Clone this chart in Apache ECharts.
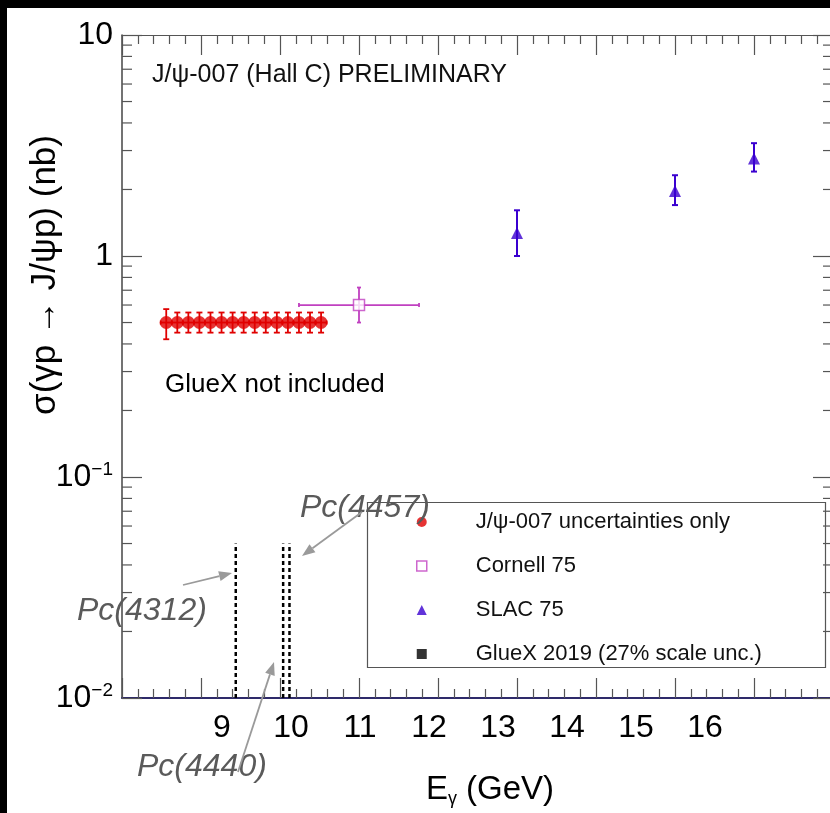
<!DOCTYPE html>
<html><head><meta charset="utf-8">
<script src="https://cdn.jsdelivr.net/npm/echarts@6/dist/echarts.min.js"></script>
<style>html,body{margin:0;padding:0;background:#fff;}#c{width:830px;height:813px;}</style>
</head><body><div id="c"></div>
<script>
// ---- data ----
const hallcE   = [8.56, 8.70, 8.84, 8.98, 9.12, 9.26, 9.40, 9.54, 9.68, 9.82, 9.96, 10.10, 10.24, 10.38, 10.52];
const hallcXS  = [0.50, 0.50, 0.50, 0.50, 0.50, 0.50, 0.50, 0.50, 0.50, 0.50, 0.50, 0.50, 0.50, 0.50, 0.50];
const hallcLo  = [0.42, 0.45, 0.45, 0.45, 0.45, 0.45, 0.45, 0.45, 0.45, 0.45, 0.45, 0.45, 0.45, 0.45, 0.45];
const hallcHi  = [0.575, 0.555, 0.555, 0.555, 0.555, 0.555, 0.555, 0.555, 0.555, 0.555, 0.555, 0.555, 0.555, 0.555, 0.555];
const hallcXErr= [0.07, 0.07, 0.07, 0.07, 0.07, 0.07, 0.07, 0.07, 0.07, 0.07, 0.07, 0.07, 0.07, 0.07, 0.07];

const cornellE = [11.0];
const cornellXS = [0.60];
const cornellLo = [0.50];
const cornellHi = [0.72];
const cornellXErr = [0.76];

const slacE  = [13, 15, 16];
const slacXS = [1.27, 1.97, 2.76];
const slacLo = [1.00, 1.70, 2.41];
const slacHi = [1.61, 2.32, 3.24];

const pcNames = ['Pc(4312)', 'Pc(4440)', 'Pc(4457)'];
const pcE     = [9.44, 10.04, 10.12];
const pcLow   = 0.01;
const pcTop   = 0.05;

const xTickValues = [9, 10, 11, 12, 13, 14, 15, 16];
const yTickValues = [0.01, 0.1, 1, 10];
const yTickBase   = ['10', '10', '1', '10'];
const yTickExp    = ['\u22122', '\u22121', '', ''];
const yMinorValues = [0.02, 0.03, 0.04, 0.05, 0.06, 0.07, 0.08, 0.09,
                      0.2, 0.3, 0.4, 0.5, 0.6, 0.7, 0.8, 0.9,
                      2, 3, 4, 5, 6, 7, 8, 9];

const legendNames = ['J/\u03c8-007 uncertainties only', 'Cornell 75', 'SLAC 75', 'GlueX 2019 (27% scale unc.)'];

// ---- styles ----
const FONT = 'Liberation Sans, Arial, Helvetica, sans-serif';
const RED = '#e00000', MAG = '#c040c0', BLUE = '#3a00d0';

function rows(e, y, lo, hi, xe) {
  return e.map((v, i) => [v, y[i], lo[i], hi[i], xe ? xe[i] : 0]);
}

function errRender(color, cap, lw) {
  return function (params, api) {
    const x = api.value(0), y = api.value(1), lo = api.value(2), hi = api.value(3), xe = api.value(4);
    const pLo = api.coord([x, lo]), pHi = api.coord([x, hi]);
    const st = { stroke: color, lineWidth: lw };
    const ch = [
      { type: 'line', shape: { x1: pLo[0], y1: pLo[1], x2: pHi[0], y2: pHi[1] }, style: st },
      { type: 'line', shape: { x1: pLo[0] - cap, y1: pLo[1], x2: pLo[0] + cap, y2: pLo[1] }, style: st },
      { type: 'line', shape: { x1: pHi[0] - cap, y1: pHi[1], x2: pHi[0] + cap, y2: pHi[1] }, style: st }
    ];
    if (xe > 0) {
      const pl = api.coord([x - xe, y]), pr = api.coord([x + xe, y]);
      ch.push({ type: 'line', shape: { x1: pl[0], y1: pl[1], x2: pr[0], y2: pr[1] }, style: st });
      ch.push({ type: 'line', shape: { x1: pl[0], y1: pl[1] - 2, x2: pl[0], y2: pl[1] + 2 }, style: st });
      ch.push({ type: 'line', shape: { x1: pr[0], y1: pr[1] - 2, x2: pr[0], y2: pr[1] + 2 }, style: st });
    }
    return { type: 'group', children: ch };
  };
}

function minorRender(params, api) {
  const p = api.coord([8, api.value(1)]);
  const cs = params.coordSys;
  const st = { stroke: '#555', lineWidth: 1.2 };
  return { type: 'group', children: [
    { type: 'line', shape: { x1: cs.x, y1: p[1], x2: cs.x + 10, y2: p[1] }, style: st },
    { type: 'line', shape: { x1: cs.x + cs.width, y1: p[1], x2: cs.x + cs.width - 10, y2: p[1] }, style: st }
  ]};
}

const chart = echarts.init(document.getElementById('c'), null, { renderer: 'canvas' });

const xAxisBase = {
  type: 'value', min: 8, max: 17, interval: 1,
  splitLine: { show: false },
  axisTick: { inside: true, length: 20, lineStyle: { color: '#555', width: 1.2 } },
  minorTick: { show: true, splitNumber: 5, length: 9, lineStyle: { color: '#555', width: 1.2 } }
};

const option = {
  backgroundColor: '#fff',
  animation: false,
  grid: { left: 122, top: 35, width: 711, height: 663, containLabel: false, outerBoundsMode: 'none' },
  xAxis: [
    Object.assign({}, xAxisBase, {
      position: 'bottom',
      axisLine: { show: true, lineStyle: { color: '#2e2a6a', width: 2 } },
      axisLabel: { show: false }
    }),
    Object.assign({}, xAxisBase, {
      position: 'top',
      axisLine: { show: true, lineStyle: { color: '#555', width: 1.2 } },
      axisLabel: { show: false }
    }),
    {
      // tick-label row as printed in the source figure
      type: 'value', position: 'bottom', min: 7.551, max: 17.855,
      splitLine: { show: false }, axisLine: { show: false }, axisTick: { show: false },
      minorTick: { show: false },
      axisLabel: {
        customValues: xTickValues, margin: 14, fontSize: 32, color: '#000', fontFamily: FONT,
        formatter: v => String(v)
      }
    }
  ],
  yAxis: [
    {
      type: 'log', logBase: 10, min: 0.01, max: 10, position: 'left',
      splitLine: { show: false },
      axisLine: { show: true, lineStyle: { color: '#444', width: 1.5 } },
      axisTick: { inside: true, length: 20, lineStyle: { color: '#555', width: 1.2 } },
      axisLabel: {
        margin: 9, color: '#000', fontFamily: FONT,
        formatter: v => {
          let k = -1;
          yTickValues.forEach((t, i) => { if (Math.abs(Math.log10(t) - Math.log10(v)) < 1e-6) k = i; });
          if (k < 0) return '';
          return yTickExp[k] ? '{b|' + yTickBase[k] + '}{s|' + yTickExp[k] + '}' : '{b|' + yTickBase[k] + '}';
        },
        rich: {
          b: { fontSize: 32, fontFamily: FONT, color: '#000', lineHeight: 34 },
          s: { fontSize: 19, fontFamily: FONT, color: '#000', verticalAlign: 'top', lineHeight: 18 }
        }
      }
    },
    {
      type: 'log', logBase: 10, min: 0.01, max: 10, position: 'right',
      splitLine: { show: false },
      axisLine: { show: true, lineStyle: { color: '#444', width: 1.5 } },
      axisTick: { inside: true, length: 20, lineStyle: { color: '#555', width: 1.2 } },
      axisLabel: { show: false }
    }
  ],
  legend: {
    orient: 'vertical', left: 416, top: 511, padding: 0, itemWidth: 10, itemHeight: 10, itemGap: 22,
    selectedMode: false,
    textStyle: { fontSize: 22, fontFamily: FONT, color: '#111', padding: [0, 0, 0, 44], lineHeight: 20 },
    data: [
      { name: legendNames[0], icon: 'circle', itemStyle: { color: RED } },
      { name: legendNames[1], icon: 'rect', itemStyle: { color: '#fff', borderColor: MAG, borderWidth: 1.5 } },
      { name: legendNames[2], icon: 'triangle', itemStyle: { color: BLUE } },
      { name: legendNames[3], icon: 'rect', itemStyle: { color: '#000' } }
    ]
  },
  series: [
    { type: 'custom', name: 'yminor', renderItem: minorRender, clip: false, silent: true,
      data: yMinorValues.map(v => [8, v]), encode: { x: 0, y: 1 }, z: 1 },
    ...pcE.map((e, i) => ({
      type: 'line', name: pcNames[i], data: [[e, pcLow], [e, pcTop]], symbol: 'none', silent: true,
      lineStyle: { color: '#000', width: 2.5, type: [4, 3] }, z: 2
    })),
    { type: 'custom', name: 'hallc-err', renderItem: errRender(RED, 3, 1.8), clip: false,
      data: rows(hallcE, hallcXS, hallcLo, hallcHi, hallcXErr), encode: { x: 0, y: [1, 2, 3] }, z: 3 },
    { type: 'custom', name: 'cornell-err', renderItem: errRender(MAG, 2, 1.8), clip: false,
      data: rows(cornellE, cornellXS, cornellLo, cornellHi, cornellXErr), encode: { x: 0, y: [1, 2, 3] }, z: 3 },
    { type: 'custom', name: 'slac-err', renderItem: errRender(BLUE, 3, 2), clip: false,
      data: rows(slacE, slacXS, slacLo, slacHi, null), encode: { x: 0, y: [1, 2, 3] }, z: 3 },
    { type: 'scatter', name: legendNames[0], symbol: 'circle', symbolSize: 13,
      itemStyle: { color: RED }, data: hallcE.map((e, i) => [e, hallcXS[i]]), z: 4 },
    { type: 'scatter', name: legendNames[1], symbol: 'rect', symbolSize: 11,
      itemStyle: { color: '#fff', borderColor: MAG, borderWidth: 1.5 }, data: cornellE.map((e, i) => [e, cornellXS[i]]), z: 4 },
    { type: 'scatter', name: legendNames[2], symbol: 'triangle', symbolSize: 12,
      itemStyle: { color: BLUE }, data: slacE.map((e, i) => [e, slacXS[i]]), z: 4 },
    { type: 'scatter', name: legendNames[3], symbol: 'rect', symbolSize: 10,
      itemStyle: { color: '#000' }, data: [], z: 4 }
  ]
};

function arrow(x1, y1, x2, y2) {
  const a = Math.atan2(y2 - y1, x2 - x1), L = 13, W = 5;
  const bx = x2 - L * Math.cos(a), by = y2 - L * Math.sin(a);
  return [
    { type: 'line', shape: { x1: x1, y1: y1, x2: bx, y2: by }, style: { stroke: '#9a9a9a', lineWidth: 1.8 }, z: 50 },
    { type: 'polygon', shape: { points: [[x2, y2], [bx + W * Math.sin(a), by - W * Math.cos(a)], [bx - W * Math.sin(a), by + W * Math.cos(a)]] },
      style: { fill: '#9a9a9a' }, z: 50 }
  ];
}

const pcText = (t, x, y) => ({ type: 'text', x: x, y: y, z: 50,
  style: { text: t, fontSize: 32, fontStyle: 'italic', fontFamily: FONT, fill: '#5a5a5a', align: 'left', verticalAlign: 'middle' } });

option.graphic = [
  { type: 'rect', left: 0, top: 0, shape: { width: 830, height: 8 }, style: { fill: '#000' }, z: 100 },
  { type: 'rect', left: 0, top: 0, shape: { width: 7, height: 813 }, style: { fill: '#000' }, z: 100 },
  { type: 'text', x: 152, y: 75, style: { text: 'J/\u03c8-007 (Hall C) PRELIMINARY', fontSize: 25, fontFamily: FONT, fill: '#111', align: 'left', verticalAlign: 'middle' } },
  { type: 'text', x: 165, y: 385, style: { text: 'GlueX not included', fontSize: 26, fontFamily: FONT, fill: '#000', align: 'left', verticalAlign: 'middle' } },
  { type: 'text', x: 45, y: 275, rotation: Math.PI / 2, z: 10,
    style: { text: '\u03c3(\u03b3p \u2192 J/\u03c8p) (nb)', fontSize: 35, fontFamily: FONT, fill: '#000', align: 'center', verticalAlign: 'middle' } },
  { type: 'text', x: 490, y: 790, z: 10,
    style: { text: '{a|E}{s|\u03b3}{a| (GeV)}', fontFamily: FONT, align: 'center', verticalAlign: 'middle',
      rich: { a: { fontSize: 33, fontFamily: FONT, fill: '#000', lineHeight: 36 },
              s: { fontSize: 18, fontFamily: FONT, fill: '#000', verticalAlign: 'bottom', lineHeight: 14 } } } },
  { type: 'rect', left: 365, top: 500, z: 5, shape: { width: 458, height: 165 }, style: { fill: 'none', stroke: '#555', lineWidth: 1.2 } },
  pcText('Pc(4457)', 300, 508),
  pcText('Pc(4312)', 77, 611),
  pcText('Pc(4440)', 137, 767),
  ...arrow(362, 512, 302, 556),
  ...arrow(183, 585, 232, 573),
  ...arrow(238, 772, 274, 662)
];

chart.setOption(option);
</script></body></html>
